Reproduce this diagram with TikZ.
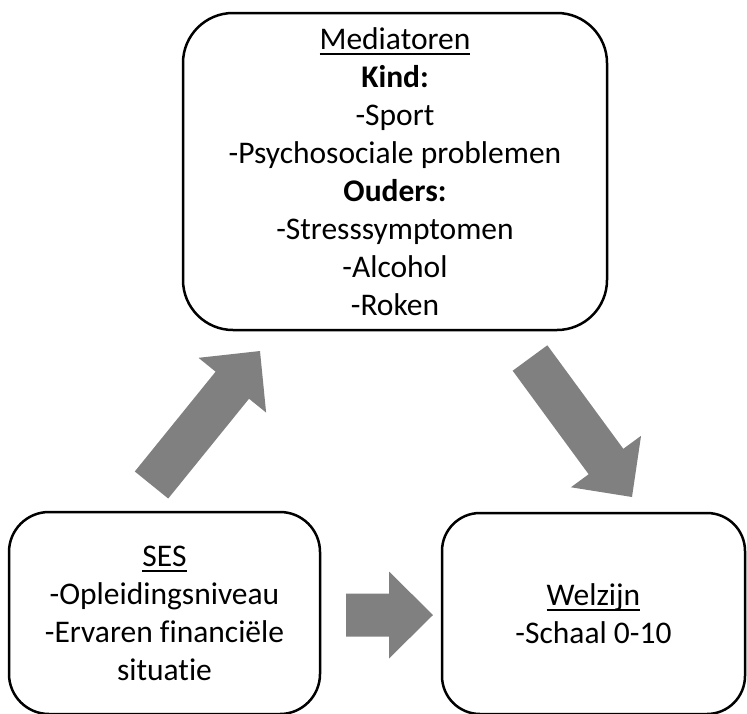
\documentclass[tikz,border=0pt]{standalone}
\usepackage{fontspec}
\setmainfont{Carlito}[Ligatures=NoCommon]
\usetikzlibrary{calc}

\definecolor{arrowgray}{RGB}{128,128,128}

% underlined heading with fixed rule position
\newsavebox{\headbox}
\newcommand{\ulhead}[1]{\sbox{\headbox}{#1}\rlap{\rule[-5.4pt]{\wd\headbox}{1.8pt}}\usebox{\headbox}}

% block arrow from tail centre #1 to tip #2
\newcommand{\blockarrow}[2]{%
  \fill[arrowgray] let \p1=($(#2)-(#1)$), \n1={atan2(\y1,\x1)}, \n2={veclen(\x1,\y1)} in
    [shift={(#1)}, rotate=\n1]
    (0pt,-21.5pt) -- ({\n2-44pt},-21.5pt) -- ({\n2-44pt},-43.5pt) -- ({\n2+0pt},0pt)
    -- ({\n2-44pt},43.5pt) -- ({\n2-44pt},21.5pt) -- (0pt,21.5pt) -- cycle;
}

\begin{document}
\begin{tikzpicture}[x=1pt, y=-1pt, line width=2.5pt, font=\fontsize{31.5}{38}\selectfont,
    box/.style={draw, rectangle, align=center, inner sep=0pt}]
	\useasboundingbox (0,0) rectangle (747,713);
	\node[box, rounded corners=50pt, minimum width=424pt, minimum height=317pt] (med) at (395,171.5)
		{\ulhead{Mediatoren}\\\textbf{Kind:}\\-Sport\\-Psychosociale problemen\\\textbf{Ouders:}\\-Stresssymptomen\\-Alcohol\\-Roken};
	\node[box, rounded corners=40pt, minimum width=311pt, minimum height=202pt] (ses) at (164.5,613)
		{\ulhead{SES}\\-Opleidingsniveau\\-Ervaren financiële\\situatie};
	\node[box, rounded corners=38pt, minimum width=303pt, minimum height=201pt] (wel) at (593.5,613.5)
		{\ulhead{Welzijn}\\-Schaal 0-10};
	% arrows
	\coordinate (upTail) at (151.5,485);
	\coordinate (upTip) at (260,351);
	\coordinate (downTail) at (530,358);
	\coordinate (downTip) at (632,497);
	\coordinate (rightTail) at (346,615);
	\coordinate (rightTip) at (433,615);
	\blockarrow{upTail}{upTip}
	\blockarrow{downTail}{downTip}
	\blockarrow{rightTail}{rightTip}
\end{tikzpicture}
\end{document}
